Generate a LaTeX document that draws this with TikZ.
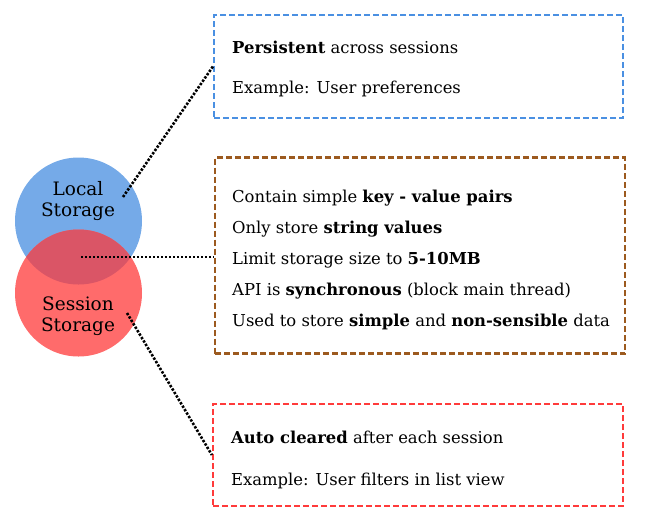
\documentclass[tikz,border=0pt]{standalone}
\usepackage{fontspec}
\setmainfont{DejaVu Serif}
\definecolor{cblue}{HTML}{75AAE8}
\definecolor{cred}{HTML}{FF6B6B}
\definecolor{cmix}{HTML}{DA5566}
\definecolor{bblue}{HTML}{4A90E2}
\definecolor{bbrown}{HTML}{9C5A1F}
\definecolor{bred}{HTML}{FF3B3B}
\tikzset{
  infobox/.style={draw, line width=2.2pt, dash pattern=on 6pt off 3pt, minimum width=#1, inner sep=0pt},
  dotline/.style={line width=2.6pt, dash pattern=on 2.4pt off 1.6pt},
  txt/.style={anchor=base west, inner sep=0pt, font=\fontsize{16.4}{19}\selectfont},
  circlabel/.style={align=center, inner sep=0pt, font=\fontsize{18.5}{21}\selectfont},
  storage/.style={circle, minimum size=127pt, inner sep=0pt}
}
\begin{document}
\begin{tikzpicture}[x=1pt,y=-1pt]
\useasboundingbox (0,0) rectangle (645,528);
% circles
\node[storage, fill=cblue] (local) at (78.5,221) {};
\node[storage, fill=cred] (session) at (78.5,293) {};
\begin{scope}
  \clip (78.5,221) circle (63.5);
  \fill[cmix] (78.5,293) circle (63.5);
\end{scope}
\node[circlabel, anchor=base] (ltxt) at (78,195) {Local};
\node[circlabel, anchor=base] (ltxt2) at (78,216) {Storage};
\node[circlabel, anchor=base] (stxt) at (78,310) {Session};
\node[circlabel, anchor=base] (stxt2) at (78,331) {Storage};
% boxes
\node[infobox=409pt, minimum height=103pt, draw=bblue] (boxA) at (418.5,66.5) {};
\node[infobox=410pt, minimum height=196pt, draw=bbrown] (boxB) at (420,255.5) {};
\node[infobox=410pt, minimum height=102pt, draw=bred] (boxC) at (418,455) {};
% texts
\node[txt] (a1) at (232,53) {\textbf{Persistent} across sessions};
\node[txt] (a2) at (232,93) {Example: User preferences};
\node[txt] (b1) at (232,202) {Contain simple \textbf{key - value pairs}};
\node[txt] (b2) at (232,233) {Only store \textbf{string values}};
\node[txt] (b3) at (232,264) {Limit storage size to \textbf{5-10MB}};
\node[txt] (b4) at (232,295) {API is \textbf{synchronous} (block main thread)};
\node[txt] (b5) at (232,326) {Used to store \textbf{simple} and \textbf{non-sensible} data};
\node[txt] (c1) at (231,443) {\textbf{Auto cleared} after each session};
\node[txt] (c2) at (231,485) {Example: User filters in list view};
% connectors
\coordinate (pA) at (123,197);
\coordinate (pB) at (81,257);
\coordinate (pC) at (127,313);
\draw[dotline] (pA) -- (boxA.west);
\draw[dotline] (pB) -- (boxB.west |- pB);
\draw[dotline] (pC) -- (boxC.west);
\end{tikzpicture}
\end{document}
